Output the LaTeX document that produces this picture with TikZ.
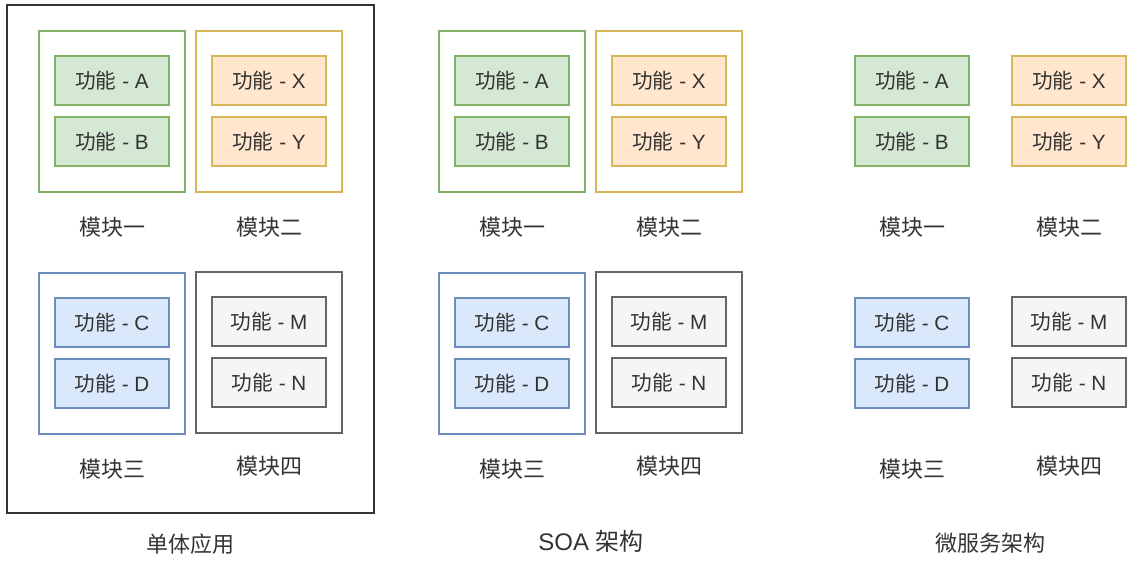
\documentclass[tikz,border=0pt]{standalone}
\usepackage{fontspec}
\setmainfont{Liberation Sans}
\newfontfamily\cjk{Noto Sans CJK SC}
\usepackage{xcolor}
\definecolor{txt}{HTML}{333333}
\definecolor{greenfill}{HTML}{D5E8D4}
\definecolor{greenline}{HTML}{82B366}
\definecolor{orangefill}{HTML}{FFE6CC}
\definecolor{orangeline}{HTML}{D6B656}
\definecolor{bluefill}{HTML}{DAE8FC}
\definecolor{blueline}{HTML}{6C8EBF}
\definecolor{grayfill}{HTML}{F5F5F5}
\definecolor{grayline}{HTML}{666666}
\newcommand{\gongneng}{{\cjk 功能}}
\tikzset{
	func/.style={draw, line width=1.1pt, minimum width=85.5pt, minimum height=36.75pt, inner sep=0pt, text=txt, font=\fontsize{15.5}{17}\selectfont},
	module/.style={draw, line width=0.9pt, minimum width=109.5pt, minimum height=120.75pt, inner sep=0pt},
	modlabel/.style={text=txt, font=\fontsize{16.5}{18}\selectfont\cjk},
	caption/.style={text=txt, font=\fontsize{16.5}{18}\selectfont},
}

\begin{document}
\begin{tikzpicture}[x=0.75pt, y=-0.75pt]
	\useasboundingbox (0,0) rectangle (1141,564);
	% outer frame of the monolith
	\draw[line width=1.4pt, txt] (7,5) rectangle (374,513);
	\foreach \p in {0,400,800}{
		% module frames only for the first two panels
		\ifnum\p<800
			\node[module, greenline] (mone\p) at (\p+112,111.5) {};
			\node[module, orangeline] (mtwo\p) at (\p+269,111.5) {};
			\node[module, blueline] (mthree\p) at (\p+112,353.5) {};
			\node[module, grayline] (mfour\p) at (\p+269,352.5) {};
		\fi
		\node[func, fill=greenfill, draw=greenline] (a\p) at (\p+112,80.5) {\gongneng{} - A};
		\node[func, fill=greenfill, draw=greenline] (b\p) at (\p+112,141.5) {\gongneng{} - B};
		\node[func, fill=orangefill, draw=orangeline] (x\p) at (\p+269,80.5) {\gongneng{} - X};
		\node[func, fill=orangefill, draw=orangeline] (y\p) at (\p+269,141.5) {\gongneng{} - Y};
		\node[func, fill=bluefill, draw=blueline] (c\p) at (\p+112,322.5) {\gongneng{} - C};
		\node[func, fill=bluefill, draw=blueline] (d\p) at (\p+112,383.5) {\gongneng{} - D};
		\node[func, fill=grayfill, draw=grayline] (m\p) at (\p+269,321.5) {\gongneng{} - M};
		\node[func, fill=grayfill, draw=grayline] (n\p) at (\p+269,382.5) {\gongneng{} - N};
		\node[modlabel] (lone\p) at (\p+112,227) {模块一};
		\node[modlabel] (ltwo\p) at (\p+269,227) {模块二};
		\node[modlabel] (lthree\p) at (\p+112,469) {模块三};
		\node[modlabel] (lfour\p) at (\p+269,466) {模块四};
	}
	\node[caption] (mono) at (190,544) {\cjk 单体应用};
	\node[caption, font=\fontsize{18}{20}\selectfont] (soa) at (591,541) {SOA {\cjk 架构}};
	\node[caption] (micro) at (990,543) {\cjk 微服务架构};
\end{tikzpicture}
\end{document}
